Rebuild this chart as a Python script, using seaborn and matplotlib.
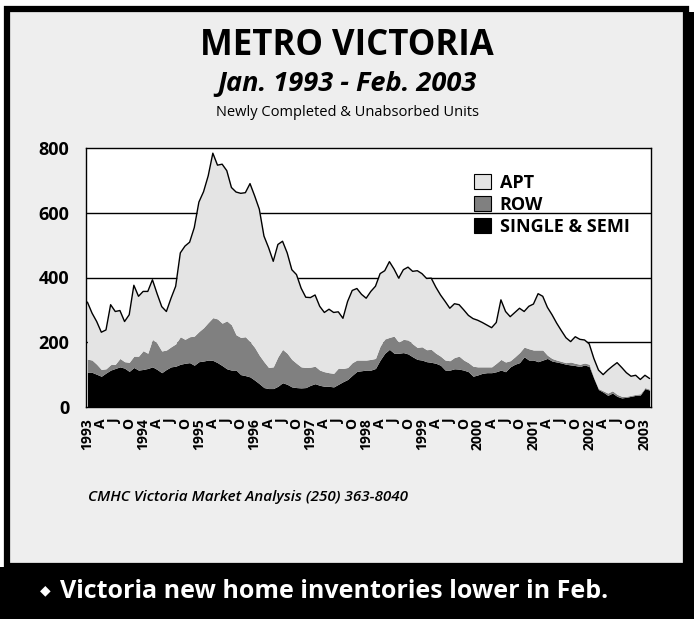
import matplotlib
matplotlib.use("Agg")
import matplotlib.pyplot as plt
import matplotlib.patches as mpatches
import matplotlib.transforms as mtransforms
import numpy as np
import pandas as pd
import seaborn as sns

# monthly units, Jan 1993 - Feb 2003
single_semi = [
    107, 107, 101, 95, 105, 114, 119, 124, 120, 110, 122, 114,
    116, 119, 124, 116, 106, 116, 124, 126, 132, 135, 137, 129,
    140, 142, 145, 144, 137, 128, 118, 114, 114, 100, 97, 93,
    83, 72, 60, 57, 57, 64, 75, 70, 62, 60, 59, 60,
    67, 72, 67, 64, 64, 62, 70, 78, 85, 98, 110, 112,
    114, 114, 119, 145, 166, 178, 166, 166, 168, 164, 155, 147,
    145, 140, 138, 135, 129, 114, 114, 118, 117, 114, 109, 95,
    99, 104, 106, 106, 109, 114, 109, 124, 132, 137, 155, 145,
    145, 140, 145, 150, 142, 139, 136, 132, 130, 128, 125, 130,
    125, 88, 54, 46, 36, 43, 33, 28, 30, 33, 36, 37,
    57, 52,
]
row = [
    41, 38, 31, 21, 13, 17, 13, 26, 20, 28, 35, 43,
    58, 47, 85, 81, 67, 60, 62, 69, 85, 74, 80, 90,
    93, 103, 116, 132, 135, 131, 148, 140, 109, 115, 120, 109,
    101, 88, 80, 65, 67, 91, 103, 96, 85, 75, 65, 62,
    56, 54, 47, 45, 42, 42, 50, 41, 37, 39, 35, 33,
    31, 33, 31, 43, 44, 37, 53, 34, 41, 43, 40, 37,
    41, 37, 40, 31, 28, 31, 29, 35, 40, 31, 28, 31,
    25, 20, 18, 18, 26, 33, 30, 19, 23, 31, 30, 35,
    31, 36, 31, 10, 8, 6, 5, 5, 9, 7, 7, 6,
    7, 3, 3, 4, 7, 7, 6, 5, 3, 3, 3, 4,
    3, 3,
]
apt = [
    176, 145, 132, 115, 120, 185, 163, 148, 124, 147, 219, 185,
    183, 191, 184, 153, 137, 119, 150, 178, 259, 288, 292, 335,
    400, 420, 453, 508, 475, 491, 464, 424, 441, 445, 445, 488,
    468, 451, 388, 370, 326, 347, 334, 310, 277, 274, 243, 217,
    215, 220, 197, 183, 196, 188, 174, 155, 204, 223, 221, 203,
    191, 210, 223, 224, 211, 234, 207, 198, 215, 225, 224, 237,
    226, 220, 220, 204, 189, 181, 162, 166, 159, 155, 146, 147,
    144, 137, 129, 121, 126, 184, 156, 136, 137, 137, 110, 131,
    142, 174, 166, 148, 135, 114, 95, 77, 63, 82, 77, 71,
    63, 59, 57, 50, 71, 76, 98, 89, 73, 59, 59, 44,
    38, 33,
]
series_names = ["SINGLE & SEMI", "ROW", "APT"]
series_colors = ["#000000", "#808080", "#e4e4e4"]
months = pd.date_range("1993-01-01", "2003-02-01", freq="MS")

W, H = 694, 619


def fig_rect(x0, y0, x1, y1, **kw):
    """Rectangle given in pixel coords (origin top-left)."""
    return mpatches.Rectangle(
        (x0 / W, 1 - y1 / H), (x1 - x0) / W, (y1 - y0) / H,
        transform=fig.transFigure, zorder=-10, **kw
    )


sns.set_style("white")
plt.rcParams["font.family"] = ["Open Sans", "DejaVu Sans"]
plt.rcParams.update({"text.color": "black", "xtick.color": "black",
                     "ytick.color": "black", "axes.labelcolor": "black"})

fig = plt.figure(figsize=(W / 100, H / 100), dpi=100)
fig.patch.set_facecolor("white")

# frame, shadow and bottom band
fig.patches.append(fig_rect(12, 12, 694, 568, facecolor="black", lw=0))
fig.patches.append(fig_rect(7, 9, 686, 566, facecolor="#eeeeee",
                            edgecolor="black", lw=4.5))
fig.patches.append(fig_rect(0, 567, 694, 619, facecolor="black", lw=0))

ax = fig.add_axes([86 / W, 1 - 407 / H, (651 - 86) / W, (407 - 148) / H])
ax.set_facecolor("white")

x = np.arange(len(months))
df = pd.DataFrame({"x": x, "single": single_semi, "row": row, "apt": apt})
df["total"] = df["single"] + df["row"] + df["apt"]

for yv in (200, 400, 600):
    ax.axhline(yv, color="black", lw=1.0, zorder=1)

ax.stackplot(df["x"], df["single"], df["row"], df["apt"],
             colors=series_colors, linewidth=0, zorder=2)
sns.lineplot(data=df, x="x", y="total", color="black", linewidth=1.0,
             ax=ax, zorder=3)

ax.set_xlim(-0.3, len(months) - 0.7)
ax.set_ylim(0, 800)
ax.set_yticks(range(0, 801, 200))
ax.set_ylabel("")
ax.set_xlabel("")

# month ticks, labels every quarter
ax.set_xticks(x, minor=True)
major = x[x % 3 == 0]
qlab = {0: None, 3: "A", 6: "J", 9: "O"}
labels = [str(months[i].year) if i % 12 == 0 else qlab[i % 12] for i in major]
ax.set_xticks(major)
ax.set_xticklabels(labels, rotation=90, fontsize=10, fontweight="bold")
offset = mtransforms.ScaledTranslation(3 / 72, 0, fig.dpi_scale_trans)
for lab in ax.get_xticklabels():
    lab.set_transform(lab.get_transform() + offset)
ax.tick_params(axis="x", which="both", length=6, width=0.8, color="black",
               direction="out", pad=2)
ax.tick_params(axis="y", length=0, pad=12, labelsize=13)
for lab in ax.get_yticklabels():
    lab.set_fontweight("bold")

for s in ax.spines.values():
    s.set_color("black")
    s.set_linewidth(1.0)
    s.set_zorder(4)

handles = [mpatches.Patch(facecolor=c, edgecolor="black", lw=0.8, label=n)
           for n, c in zip(series_names, series_colors)][::-1]
ax.legend(handles=handles, loc="upper left", bbox_to_anchor=(0.67, 0.935),
          frameon=False, prop={"weight": "bold", "size": 13},
          handlelength=0.95, handleheight=0.95, handletextpad=0.5,
          labelspacing=0.22, borderpad=0)

fig.text(347 / W, 1 - 46 / H, "METRO VICTORIA", ha="center", va="center",
         fontsize=25, fontweight="bold")
fig.text(347 / W, 1 - 84 / H, "Jan. 1993 - Feb. 2003", ha="center",
         va="center", fontsize=19.5, fontweight="bold", style="italic")
fig.text(347 / W, 1 - 112 / H, "Newly Completed & Unabsorbed Units",
         ha="center", va="center", fontsize=10.5)
fig.text(88 / W, 1 - 497 / H, "CMHC Victoria Market Analysis (250) 363-8040",
         ha="left", va="center", fontsize=11, style="italic",
         fontweight="semibold")
fig.text(40 / W, 1 - 590 / H, "\u25c6", ha="left", va="center",
         fontsize=10, color="white", family=["DejaVu Sans"])
fig.text(60 / W, 1 - 592 / H, "Victoria new home inventories lower in Feb.",
         ha="left", va="center", fontsize=18, fontweight="bold",
         color="white")

fig.savefig("out.png", dpi=100, facecolor=fig.get_facecolor())
